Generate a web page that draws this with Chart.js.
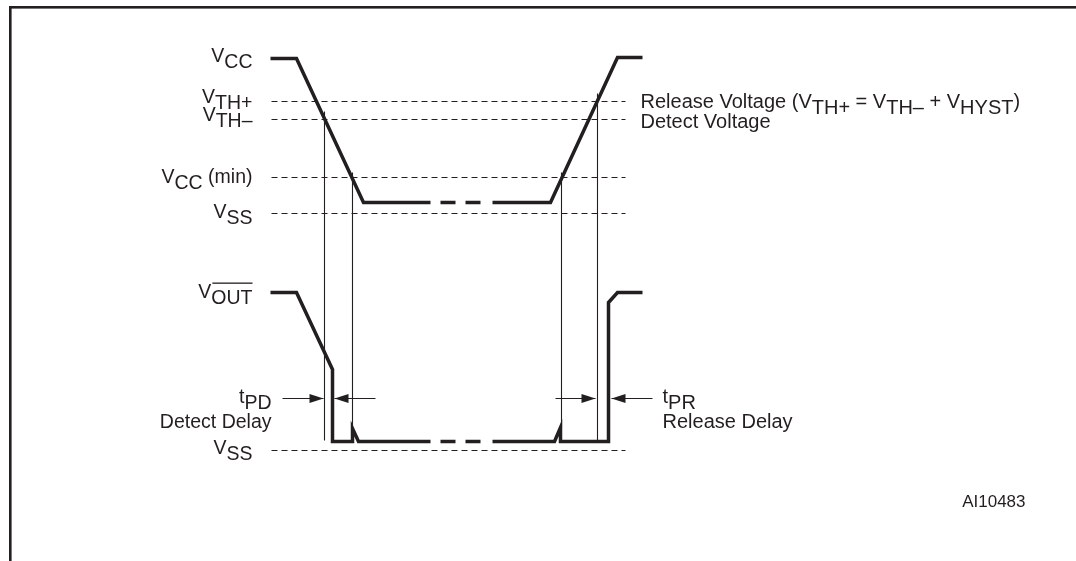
<!DOCTYPE html>
<html>
<head>
<meta charset="utf-8">
<script src="https://cdn.jsdelivr.net/npm/chart.js@4"></script>
<style>
  html, body { margin: 0; padding: 0; background: #fff; }
  canvas { display: block; }
</style>
</head>
<body>
<canvas id="myChart" width="1076" height="561"></canvas>
<script>
// time axis in arbitrary units, voltage axis in "level" units (VSS = 0)
const vccFallT = [0, 2.6, 9.3, 16];
const vccFallV = [39.2, 39.2, 24.8, 24.8];
const vccRiseT = [22.2, 28, 34.7, 37.2];
const vccRiseV = [24.8, 24.8, 39.3, 39.3];
const breakT = [17, 21.2];

const voutFallT = [0, 2.6, 6.2, 6.2, 8.2, 8.2, 8.8, 16];
const voutFallV = [15.8, 15.8, 8.1, 0.9, 0.9, 2.2, 0.9, 0.9];
const voutRiseT = [22.2, 28.4, 29.0, 29.0, 33.8, 33.8, 34.7, 37.2];
const voutRiseV = [0.9, 0.9, 2.3, 0.9, 0.9, 14.8, 15.8, 15.8];

// dashed reference levels
const levelNames = ['VTH+', 'VTH-', 'VCC(min)', 'VSS', 'VSS'];
const levelV = [34.9, 33.1, 27.3, 23.7, 0];
const levelSpan = [0.1, 35.5];

// thin marker lines (crossing instants)
const markerT = [5.4, 8.2, 29.1, 32.7];
const markerTop = [33.9, 27.8, 27.8, 35.7];
const markerBottom = [1.0, 2.2, 2.3, 0.9];

// delay arrows: [tail, tip]
const arrowV = 5.2;
const arrows = [[1.2, 5.3], [10.5, 6.4], [28.5, 32.5], [38.2, 34.1]];

const ink = '#231f20';
const FONT = '"Liberation Sans", Arial, Helvetica, sans-serif';

function pts(ts, vs) { return ts.map((t, i) => ({ x: t, y: vs[i] })); }

const datasets = [];
function addLine(data, width, dash) {
    datasets.push({
        data: data, showLine: true, borderColor: ink, borderWidth: width,
        borderDash: dash || [], pointRadius: 0, tension: 0,
        borderJoinStyle: 'miter', borderCapStyle: 'butt', fill: false
    });
}

levelV.forEach(v => addLine([{ x: levelSpan[0], y: v }, { x: levelSpan[1], y: v }], 1, [6, 4]));
markerT.forEach((t, i) => addLine([{ x: t, y: markerTop[i] }, { x: t, y: markerBottom[i] }], 1.1));
arrows.forEach(a => addLine([{ x: a[0], y: arrowV }, { x: a[1], y: arrowV }], 1.1));

addLine(pts(vccFallT, vccFallV), 3.5);
addLine(pts(vccRiseT, vccRiseV), 3.5);
addLine(pts(breakT, [24.8, 24.8]), 3.5, [15, 10]);
addLine(pts(voutFallT, voutFallV), 3.5);
addLine(pts(voutRiseT, voutRiseV), 3.5);
addLine(pts(breakT, [0.9, 0.9]), 3.5, [15, 10]);

// text: spans of [text, mode] where mode n = normal, s = subscript, o = subscript with overline
function drawRich(ctx, spans, x, y, align, size) {
    ctx.font = size + 'px ' + FONT;
    const w = spans.reduce((s, p) => s + ctx.measureText(p[0]).width, 0);
    let cx = align === 'right' ? x - w : x;
    spans.forEach(p => {
        const dy = p[1] === 'n' ? 0 : 6;
        ctx.fillText(p[0], cx, y + dy);
        const pw = ctx.measureText(p[0]).width;
        if (p[1] === 'o') {
            ctx.fillRect(cx + 1, y + dy - 21, pw - 1, 1.3);
        }
        cx += pw;
    });
}

const annotate = {
    id: 'annotate',
    afterDatasetsDraw(chart) {
        const ctx = chart.ctx;
        const xs = chart.scales.x, ys = chart.scales.y;
        ctx.save();
        ctx.fillStyle = ink;

        // arrowheads
        const ay = ys.getPixelForValue(arrowV);
        arrows.forEach(a => {
            const tip = xs.getPixelForValue(a[1]);
            const dir = a[1] > a[0] ? 1 : -1;
            ctx.beginPath();
            ctx.moveTo(tip, ay);
            ctx.lineTo(tip - dir * 14, ay - 4.5);
            ctx.lineTo(tip - dir * 14, ay + 4.5);
            ctx.closePath();
            ctx.fill();
        });

        // frame
        ctx.fillRect(9, 6, 1076, 2.6);
        ctx.fillRect(9, 6, 2.6, 561);

        const lx = xs.getPixelForValue(-1.8);
        const L = v => ys.getPixelForValue(v);
        ctx.textBaseline = 'alphabetic';
        const fs = 19.5;
        drawRich(ctx, [['V', 'n'], ['CC', 's']], lx, L(39.2) + 3, 'right', fs);
        drawRich(ctx, [['V', 'n'], ['TH+', 's']], lx, L(34.9) + 1, 'right', fs);
        drawRich(ctx, [['V', 'n'], ['TH–', 's']], lx, L(33.1) + 1, 'right', fs);
        drawRich(ctx, [['V', 'n'], ['CC', 's'], [' (min)', 'n']], lx, L(27.3) + 5, 'right', fs);
        drawRich(ctx, [['V', 'n'], ['SS', 's']], lx, L(23.7) + 4, 'right', fs);
        drawRich(ctx, [['V', 'n'], ['OUT', 'o']], lx, L(15.8) + 5, 'right', fs);
        drawRich(ctx, [['V', 'n'], ['SS', 's']], lx, L(0) + 3, 'right', fs);

        const dx = xs.getPixelForValue(0.1);
        drawRich(ctx, [['t', 'n'], ['PD', 's']], dx, ay + 4, 'right', fs);
        drawRich(ctx, [['Detect Delay', 'n']], dx, ay + 29, 'right', fs);
        const rx = xs.getPixelForValue(39.2);
        drawRich(ctx, [['t', 'n'], ['PR', 's']], rx, ay + 4, 'left', 20);
        drawRich(ctx, [['Release Delay', 'n']], rx, ay + 29, 'left', 20);

        const tx = xs.getPixelForValue(37.0);
        drawRich(ctx, [['Release Voltage (', 'n'], ['V', 'n'], ['TH+', 's'], [' = ', 'n'],
            ['V', 'n'], ['TH–', 's'], [' + ', 'n'], ['V', 'n'], ['HYST', 's'], [')', 'n']],
            tx, L(34.9) + 6, 'left', 20);
        drawRich(ctx, [['Detect Voltage', 'n']], tx, L(33.1) + 8, 'left', 20);

        drawRich(ctx, [['AI10483', 'n']], xs.getPixelForValue(75.5), L(0) + 56, 'right', 17);
        ctx.restore();
    }
};

new Chart(document.getElementById('myChart').getContext('2d'), {
    type: 'scatter',
    data: { datasets: datasets },
    options: {
        responsive: false,
        animation: false,
        layout: { padding: 0 },
        scales: {
            // half-unit offsets keep the 1px lines on pixel centres
            x: { type: 'linear', min: -27.05, max: 80.55, display: false },
            y: { type: 'linear', min: -11.05, max: 45.05, display: false }
        },
        plugins: { legend: { display: false }, tooltip: { enabled: false } }
    },
    plugins: [annotate]
});
</script>
</body>
</html>
